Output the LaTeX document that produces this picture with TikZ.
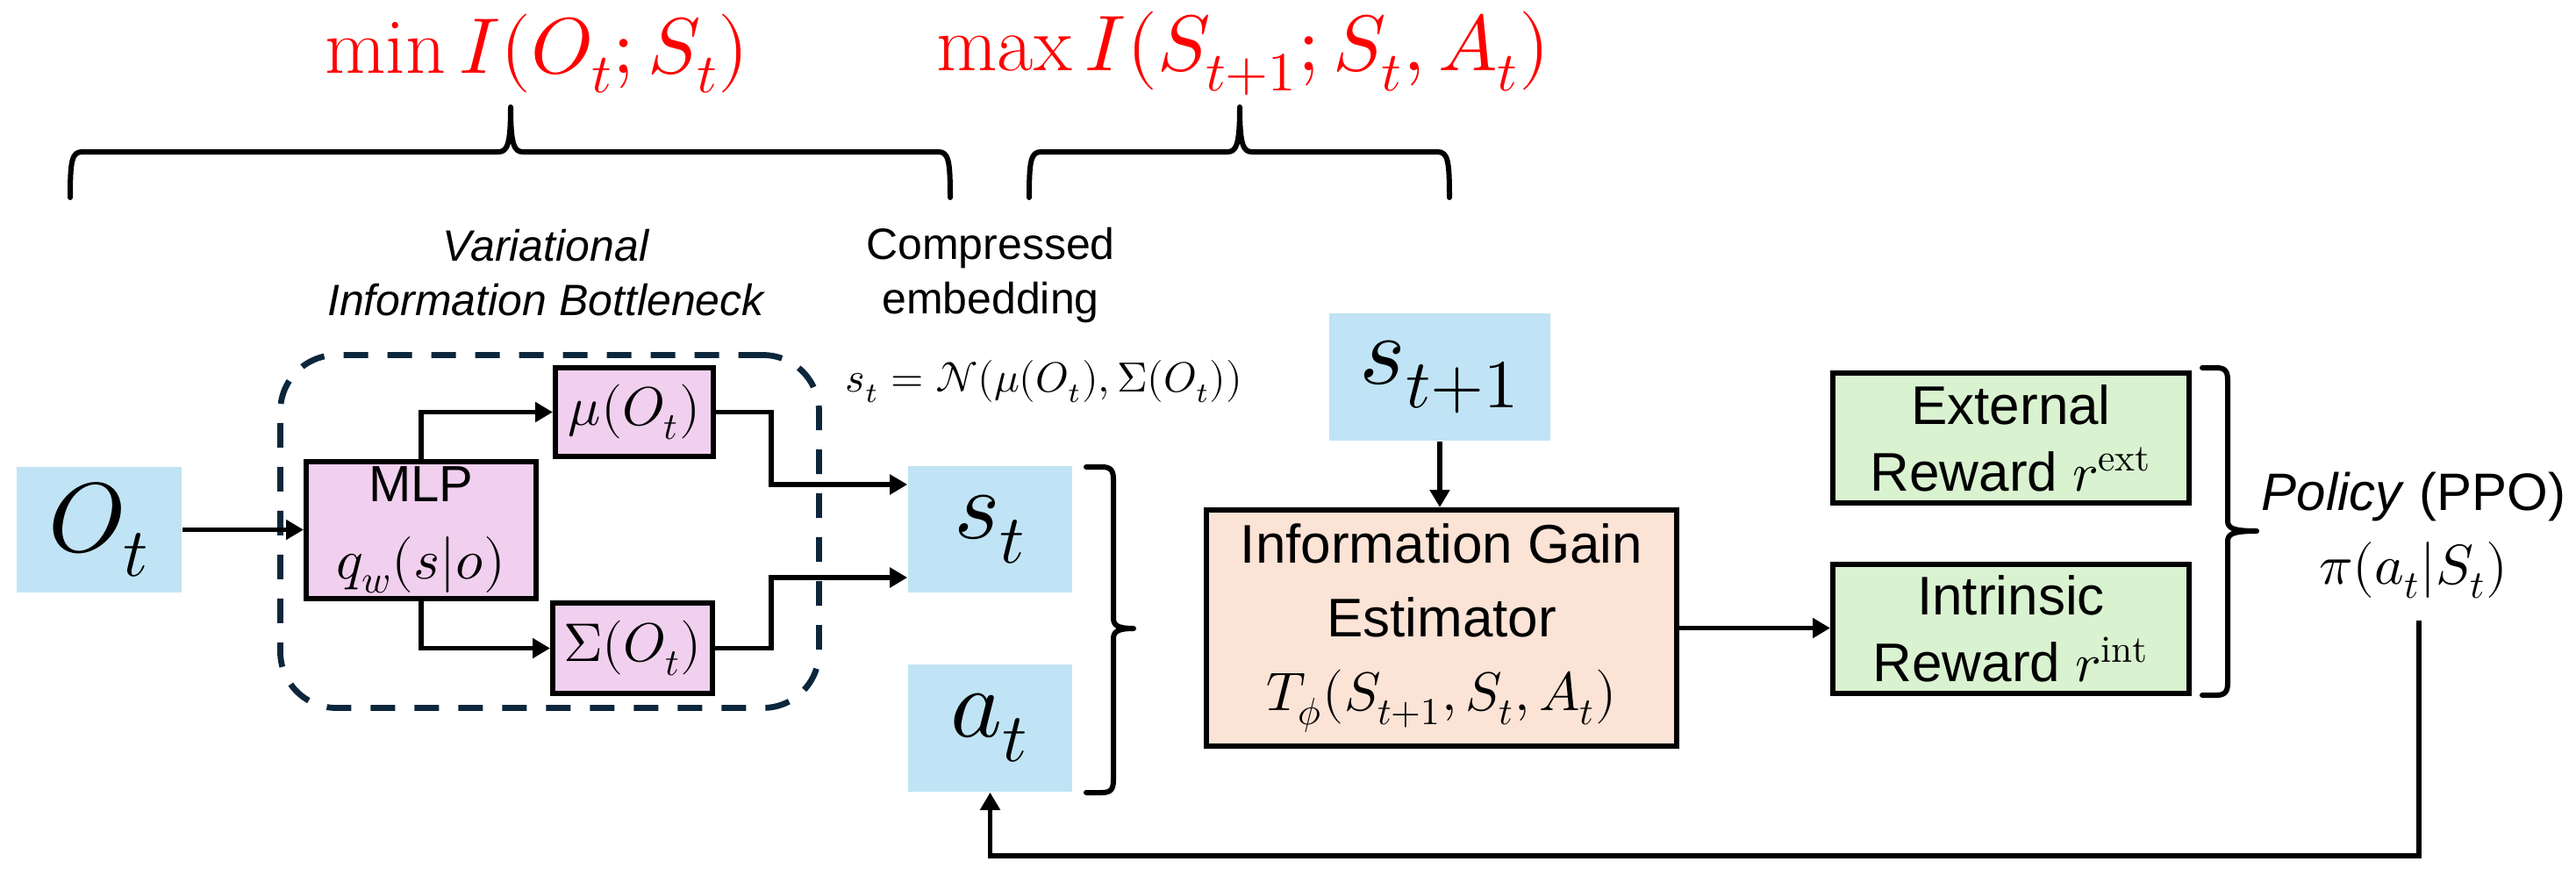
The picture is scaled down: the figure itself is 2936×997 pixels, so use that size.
\documentclass[tikz,border=0pt]{standalone}
\usepackage{fontspec}
\setmainfont{Liberation Sans}
\usepackage{unicode-math}
\setmathfont{Latin Modern Math}
\setmathrm{Latin Modern Roman}
\usetikzlibrary{arrows.meta,calc}
\definecolor{lblue}{RGB}{192,228,245}
\definecolor{lpink}{RGB}{241,207,238}
\definecolor{lpeach}{RGB}{251,227,214}
\definecolor{lgreen}{RGB}{217,242,208}
\definecolor{navy}{RGB}{12,38,60}
\begin{document}
\begin{tikzpicture}[x=0.25pt,y=-0.25pt,
  varbox/.style={fill=lblue, draw=none, inner sep=0pt, font=\fontsize{28}{32}\selectfont},
  blk/.style={draw=black, line width=1.5pt, inner sep=0pt, align=center},
  conn/.style={line width=1.3pt, -{Triangle[length=5pt,width=5.5pt]}},
  brc/.style={line width=1.5pt, line cap=round, line join=round},
  head/.style={text=red, inner sep=0pt, font=\fontsize{22.5}{27}\selectfont},
  note/.style={inner sep=0pt, align=center, font=\fontsize{12.5}{15.5}\selectfont},
]
\useasboundingbox (0,0) rectangle (2936,997);

% headlines
\node[head] (h1) at (612,61) {$\min I(O_t;S_t)$};
\node[head] (h2) at (1417,61) {$\max I(S_{t+1};S_t,A_t)$};

% top braces
\draw[brc] (80,225) .. controls (80,182) and (82,173) .. (94,173) -- (568,173)
  .. controls (578,173) and (582,165) .. (582,122)
  .. controls (582,165) and (586,173) .. (596,173) -- (1069,173)
  .. controls (1081,173) and (1083,182) .. (1083,225);
\draw[brc] (1173,225) .. controls (1173,182) and (1175,173) .. (1187,173) -- (1399,173)
  .. controls (1409,173) and (1413,165) .. (1413,122)
  .. controls (1413,165) and (1417,173) .. (1427,173) -- (1638,173)
  .. controls (1650,173) and (1652,182) .. (1652,225);

% annotations
\node[note, font=\fontsize{12.5}{15.5}\selectfont\itshape] (vib) at (622,311) {Variational\\Information Bottleneck};
\node[note] (ce) at (1129,314) {Compressed\\embedding};
\node[inner sep=0pt, font=\fontsize{12}{14}\selectfont] (form) at (1190,435) {$s_t=\mathcal{N}(\mu(O_t),\Sigma(O_t))$};

% dashed VIB box
\node[draw=navy, line width=1.7pt, dash pattern=on 7pt off 5.5pt, rounded corners=16pt,
  minimum width=153.5pt, minimum height=100.5pt, inner sep=0pt] (vibbox) at (626.5,605.5) {};

% variable boxes
\node[varbox, minimum width=47pt, minimum height=35.75pt] (ot) at (113,603.5) {$O_t$};
\node[varbox, minimum width=46.75pt, minimum height=36pt] (st) at (1128.5,603) {$s_t$};
\node[varbox, minimum width=46.75pt, minimum height=36.25pt] (at) at (1128.5,829.5) {$a_t$};
\node[varbox, minimum width=63pt, minimum height=36.25pt] (st1) at (1641,429.5) {$s_{t+1}$};

% processing blocks
\node[blk, fill=lpink, minimum width=65.5pt, minimum height=39pt, font=\fontsize{14.5}{21}\selectfont] (mlp) at (480,604) {MLP\\[1pt]{\fontsize{16}{18}\selectfont$q_w(s|o)$}};
\node[blk, fill=lpink, minimum width=45pt, minimum height=25.25pt, font=\fontsize{15.5}{18}\selectfont] (mu) at (723,469.5) {$\mu(O_t)$};
\node[blk, fill=lpink, minimum width=45.5pt, minimum height=25.75pt, font=\fontsize{15.5}{18}\selectfont] (sig) at (721,738.5) {$\Sigma(O_t)$};
\node[blk, fill=lpeach, minimum width=134pt, minimum height=67.25pt, font=\fontsize{15.5}{21}\selectfont] (ige) at (1643,715.5) {Information Gain\\Estimator\\$T_\phi(S_{t+1},S_t,A_t)$};
\node[blk, fill=lgreen, minimum width=101.5pt, minimum height=37pt, font=\fontsize{15.5}{19}\selectfont] (ext) at (2292,499) {External\\Reward $r^{\mathrm{ext}}$};
\node[blk, fill=lgreen, minimum width=101.5pt, minimum height=36.75pt, font=\fontsize{15.5}{19}\selectfont] (intr) at (2292,716.5) {Intrinsic\\Reward $r^{\mathrm{int}}$};

% policy
\node[inner sep=0pt, align=center, font=\fontsize{15}{21}\selectfont] (pol) at (2751,610) {\textit{Policy} (PPO)\\{\fontsize{16}{18}\selectfont$\pi(a_t|S_t)$}};

% side braces
\draw[brc] (1238,532) -- (1256,532) .. controls (1266,532) and (1269,536) .. (1269,546) -- (1269,704)
  .. controls (1269,712) and (1273,716) .. (1292,716)
  .. controls (1273,716) and (1269,720) .. (1269,728) -- (1269,889)
  .. controls (1269,899) and (1266,903) .. (1256,903) -- (1238,903);
\draw[brc] (2510,419) -- (2526,419) .. controls (2536,419) and (2539,423) .. (2539,433) -- (2539,593)
  .. controls (2539,601) and (2543,605) .. (2572,605)
  .. controls (2543,605) and (2539,609) .. (2539,617) -- (2539,778)
  .. controls (2539,788) and (2536,792) .. (2526,792) -- (2510,792);

% connectors
\coordinate (jx) at (879,600);
\draw[conn] (ot.east) -- (ot.east -| mlp.west);
\draw[conn] (mlp.north) |- (mu.west);
\draw[conn] (mlp.south) |- (sig.west);
\draw[conn] (mu.east) -- (mu.east -| jx) |- ($(st.west)+(0,-51)$);
\draw[conn] (sig.east) -- (sig.east -| jx) |- ($(st.west)+(0,55)$);
\draw[conn] (st1.south) -- (st1.south |- ige.north);
\draw[conn] (ige.east) -- (ige.east -| intr.west);
\coordinate (fb) at (2757,707);
\coordinate (fbot) at (2757,975);
\draw[conn] (fb) -- (fbot) -| (at.south);
\end{tikzpicture}
\end{document}
